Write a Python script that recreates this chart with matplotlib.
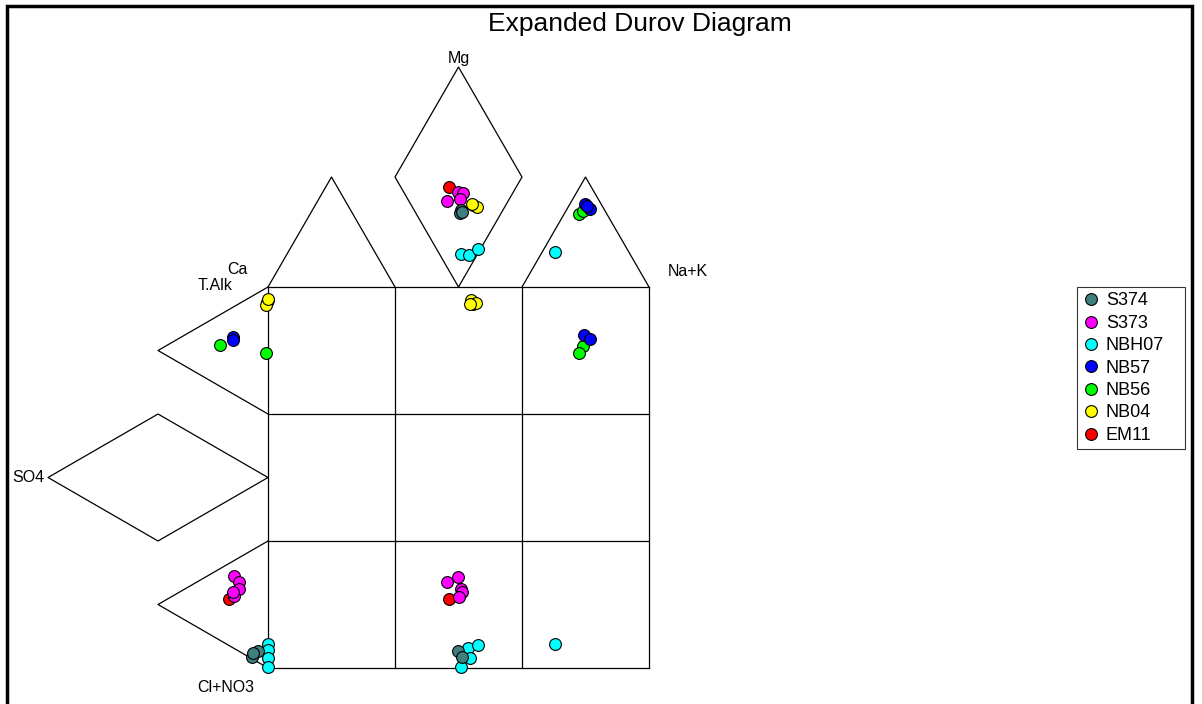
import matplotlib
matplotlib.use("Agg")
import matplotlib.pyplot as plt
import numpy as np
from matplotlib.patches import Rectangle

plt.rcParams['font.family'] = ['Liberation Sans', 'DejaVu Sans']

# sample groups (legend order) and their colours
groups = ["S374", "S373", "NBH07", "NB57", "NB56", "NB04", "EM11"]
colors = ["#3F7F7F", "#FF00FF", "#00FFFF", "#0000FF", "#00FF00", "#FFFF00", "#FF0000"]

# plotted positions in diagram units (central square = 0..100 on both axes)
S374_x = [50.6, 50.4, 50.9, -4.2, -2.6, -4.0, 49.9, 50.8]
S374_y = [120.2, 119.5, 119.8, 2.8, 4.5, 3.9, 4.5, 2.9]
S373_x = [49.8, 51.2, 47.0, 50.4, -9.0, -7.6, -7.6, -8.8, -9.1, 47.0, 49.8, 50.7, 51.0, 50.2]
S373_y = [125.0, 124.7, 122.6, 123.2, 24.1, 22.7, 20.7, 18.9, 20.0, 22.5, 24.0, 20.7, 19.9, 18.7]
NBH07_x = [50.7, 52.8, 55.0, 75.3, 0.0, 0.0, -0.1, -0.1, 52.5, 55.1, 53.0, 50.6, 75.2]
NBH07_y = [108.7, 108.5, 110.1, 109.1, 6.3, 4.7, 2.7, 0.3, 5.2, 6.1, 2.7, 0.2, 6.4]
NB57_x = [83.2, 84.5, 83.7, -9.1, -9.3, 83.0, 84.6]
NB57_y = [121.8, 120.4, 121.3, 87.0, 86.1, 87.4, 86.4]
NB56_x = [81.6, 82.7, -12.5, -0.5, 82.6, 81.6]
NB56_y = [119.1, 120.0, 84.7, 82.8, 84.5, 82.6]
NB04_x = [53.7, 54.8, 53.5, -0.1, -0.2, -0.5, 0.0, 53.2, 53.7, 54.6, 53.0]
NB04_y = [121.5, 121.1, 121.8, 96.6, 96.0, 95.2, 96.9, 96.6, 95.5, 95.7, 95.5]
EM11_x = [47.5, -10.2, 47.5]
EM11_y = [126.2, 18.0, 18.0]

xs = [S374_x, S373_x, NBH07_x, NB57_x, NB56_x, NB04_x, EM11_x]
ys = [S374_y, S373_y, NBH07_y, NB57_y, NB56_y, NB04_y, EM11_y]

fig = plt.figure(figsize=(12.02, 7.04), dpi=100)
ax = fig.add_axes([0, 0, 1, 1])
ax.set_xlim(-70.34, 245.14)
ax.set_ylim(-9.45, 175.33)
ax.axis('off')

c = 100 / 3.0
h = c * np.sqrt(3) / 2
lk = dict(color='black', lw=0.9, zorder=1)

# central 3x3 square
for k in range(4):
    ax.plot([0, 100], [k * c, k * c], **lk)
    ax.plot([k * c, k * c], [0, 100], **lk)

# top triangles and diamond
ax.plot([0, c / 2, c], [100, 100 + h, 100], **lk)
ax.plot([2 * c, 2.5 * c, 3 * c], [100, 100 + h, 100], **lk)
ax.plot([50, c, 50, 2 * c, 50], [100, 100 + h, 100 + 2 * h, 100 + h, 100], **lk)

# left triangles and diamond
ax.plot([0, -h, 0], [2 * c, 2.5 * c, 3 * c], **lk)
ax.plot([0, -h, 0], [0, c / 2, c], **lk)
ax.plot([0, -h, -2 * h, -h, 0], [50, 2 * c, 50, c, 50], **lk)

# points, last group drawn first
for i in range(len(groups) - 1, -1, -1):
    ax.plot(xs[i], ys[i], 'o', ms=8.5, mfc=colors[i], mec='black', mew=0.8,
            ls='none', label=groups[i], zorder=3 + len(groups) - i)

# axis labels
fs = 11.5
ax.text(50, 160.1, "Mg", ha='center', va='center', fontsize=fs)
ax.text(-8.1, 104.5, "Ca", ha='center', va='center', fontsize=fs)
ax.text(-13.9, 100.5, "T.Alk", ha='center', va='center', fontsize=fs)
ax.text(110.2, 104.2, "Na+K", ha='center', va='center', fontsize=fs)
ax.text(-63.0, 49.9, "SO4", ha='center', va='center', fontsize=fs)
ax.text(-11.0, -5.25, "Cl+NO3", ha='center', va='center', fontsize=fs)

fig.text(0.532, 0.966, "Expanded Durov Diagram", ha='center', va='center', fontsize=19)

handles, labels = ax.get_legend_handles_labels()
order = [labels.index(g) for g in groups]
leg = ax.legend([handles[j] for j in order], [labels[j] for j in order],
                loc='upper left',
                bbox_to_anchor=(1077 / 1202, 1 - 287 / 704, 108 / 1202, 0),
                bbox_transform=fig.transFigure, mode='expand',
                fontsize=13, frameon=True, fancybox=False, edgecolor='black',
                handletextpad=0.3, handlelength=1.0, labelspacing=0.3,
                borderpad=0.3, borderaxespad=0)
leg.get_frame().set_linewidth(0.8)
for lh in leg.legend_handles:
    lh.set_markersize(8.5)

# outer frame
fig.patches.append(Rectangle((7 / 1202, -0.05), (1192 - 7) / 1202, 1.05 - 6 / 704,
                             transform=fig.transFigure, fill=False,
                             edgecolor='black', lw=2.5))

fig.savefig("out.png", dpi=100)
